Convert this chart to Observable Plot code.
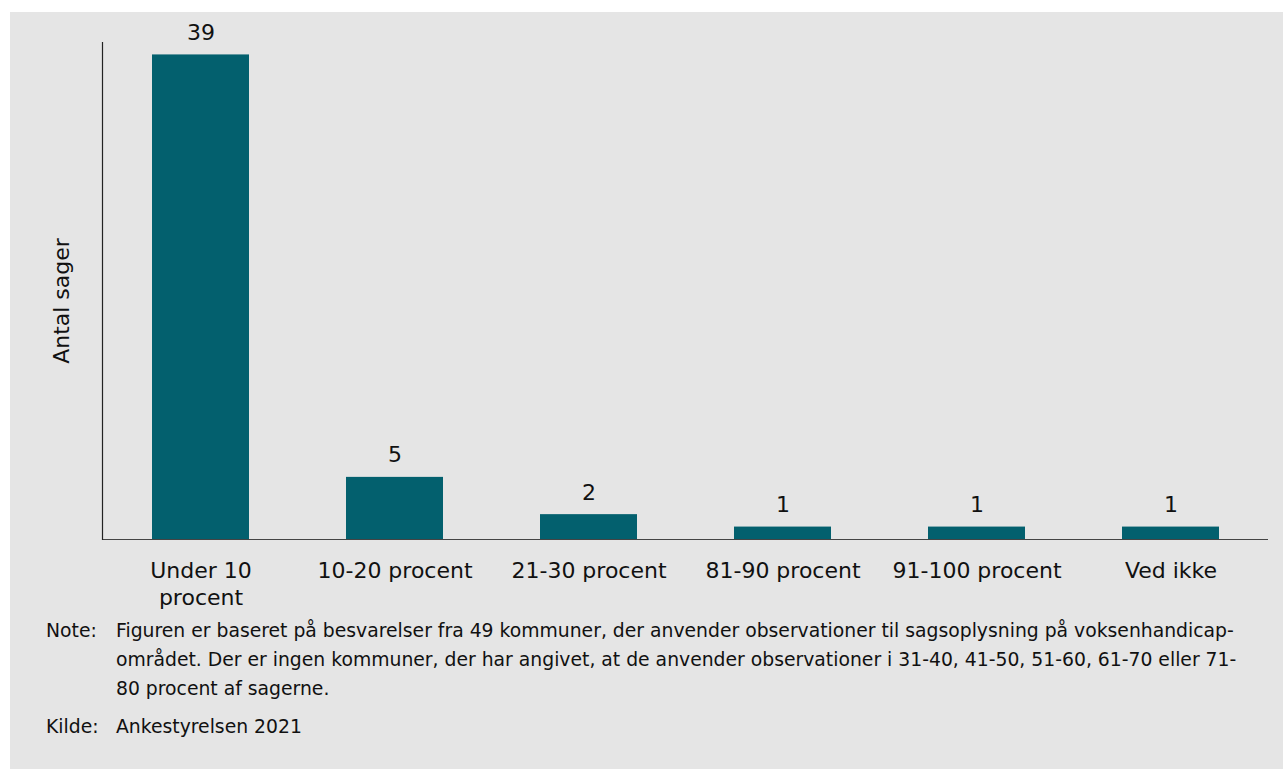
<!DOCTYPE html>
<html>
<head>
<meta charset="utf-8">
<script src="https://cdn.jsdelivr.net/npm/d3@7"></script>
<script src="https://cdn.jsdelivr.net/npm/@observablehq/plot@0.6"></script>
<style>
  html, body { margin: 0; padding: 0; background: #ffffff; width: 1283px; height: 769px; overflow: hidden; }
  #panel { position: absolute; left: 10px; top: 12px; width: 1273px; height: 757px; background: #e5e5e5; font-family: "DejaVu Sans", Verdana, sans-serif; color: #111; }
  #chart { position: absolute; left: 0; top: 0; }
  .notes { position: absolute; left: 36px; top: 604px; font-size: 18.8px; line-height: 29px; }
  .row { display: grid; grid-template-columns: 70px 1160px; }
  .row.kilde { margin-top: 9px; }
</style>
</head>
<body>
<div id="panel">
  <div id="chart"></div>
  <div class="notes">
    <div class="row"><div>Note:</div><div>Figuren er baseret på besvarelser fra 49 kommuner, der anvender observationer til sagsoplysning på voksenhandicap-<br>området. Der er ingen kommuner, der har angivet, at de anvender observationer i 31-40, 41-50, 51-60, 61-70 eller 71-<br>80 procent af sagerne.</div></div>
    <div class="row kilde"><div>Kilde:</div><div>Ankestyrelsen 2021</div></div>
  </div>
</div>
<script>
const categories = ["Under 10 procent", "10-20 procent", "21-30 procent", "81-90 procent", "91-100 procent", "Ved ikke"];
const counts = [39, 5, 2, 1, 1, 1];
const tickLabels = ["Under 10\nprocent", "10-20 procent", "21-30 procent", "81-90 procent", "91-100 procent", "Ved ikke"];
const yLabel = "Antal sager";

const data = categories.map((c, i) => ({category: c, value: counts[i]}));
const labelOf = new Map(categories.map((c, i) => [c, tickLabels[i]]));

const chart = Plot.plot({
  width: 1273,
  height: 592,
  marginTop: 30,
  marginBottom: 65,
  marginLeft: 92,
  marginRight: 15,
  style: { background: "transparent", fontFamily: "'DejaVu Sans', Verdana, sans-serif", fontSize: "22px", color: "#111", overflow: "visible" },
  x: { domain: categories, paddingInner: 0.5, paddingOuter: 0.25, align: 0.5 },
  y: { domain: [0, 40] },
  marks: [
    Plot.barY(data, { x: "category", y: "value", fill: "#03606e" }),
    Plot.text(data, { x: "category", y: "value", text: d => String(d.value), dy: -22, lineAnchor: "middle", fontSize: 22, fill: "#111" }),
    Plot.ruleY([0], { stroke: "#444", strokeWidth: 1.2 }),
    Plot.frame({ anchor: "left", stroke: "#222", strokeWidth: 1.2 }),
    Plot.axisX({ tickSize: 0, tickPadding: 19, tickFormat: d => labelOf.get(d), fontSize: 22, lineHeight: 1.23, label: null }),
    Plot.axisY({ ticks: [], tickSize: 0, label: null }),
    Plot.text([yLabel], { text: d => d, frameAnchor: "left", rotate: -90, dx: -41, dy: 10, textAnchor: "middle", lineAnchor: "middle", fontSize: 22, fill: "#111" })
  ]
});
document.getElementById("chart").appendChild(chart);
</script>
</body>
</html>
